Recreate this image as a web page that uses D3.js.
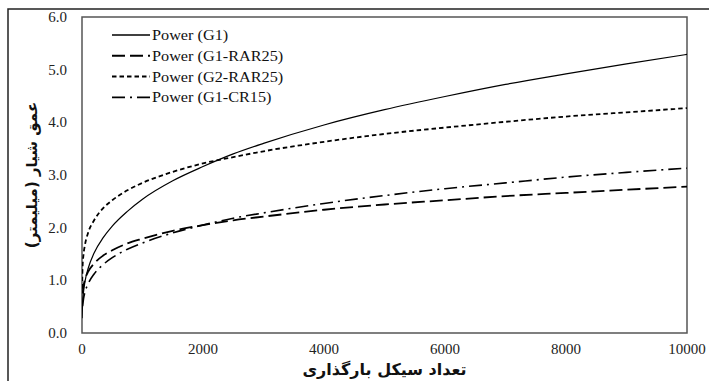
<!DOCTYPE html>
<html>
<head>
<meta charset="utf-8">
<script src="https://cdn.jsdelivr.net/npm/d3@7/dist/d3.min.js"></script>
<style>
  body { margin: 0; background: #fff; }
  .tick-label { font-family: "Liberation Serif", "Times New Roman", serif; font-size: 15px; fill: #222; }
  .legend-label { font-family: "Liberation Serif", "Times New Roman", serif; font-size: 14px; fill: #111; }
  .axis-title { font-family: "DejaVu Sans", sans-serif; font-size: 15px; font-weight: bold; fill: #111; }
</style>
</head>
<body>
<div id="chart"></div>
<script>
'use strict';

var cycles = [1, 10, 25, 50, 100, 200, 350, 500, 750, 1000, 1500, 2000, 2500, 3000, 4000, 5000, 6000, 7000, 8000, 9000, 10000];

// rut depth (mm) read for each curve
var g1      = [0.28, 0.58, 0.78, 0.98, 1.22, 1.52, 1.81, 2.03, 2.31, 2.54, 2.89, 3.16, 3.40, 3.60, 3.95, 4.24, 4.49, 4.72, 4.92, 5.11, 5.29];
var g1Rar25 = [null, 0.75, 0.89, 1.02, 1.16, 1.32, 1.47, 1.57, 1.70, 1.79, 1.94, 2.05, 2.14, 2.21, 2.34, 2.44, 2.52, 2.60, 2.66, 2.72, 2.78];
var g2Rar25 = [0.84, 1.27, 1.49, 1.68, 1.90, 2.14, 2.37, 2.52, 2.71, 2.85, 3.06, 3.22, 3.34, 3.45, 3.63, 3.78, 3.90, 4.01, 4.11, 4.19, 4.27];
var g1Cr15  = [null, 0.51, 0.65, 0.78, 0.93, 1.12, 1.30, 1.43, 1.59, 1.71, 1.90, 2.05, 2.18, 2.28, 2.46, 2.61, 2.74, 2.85, 2.96, 3.05, 3.13];

var seriesNames = ['Power (G1)', 'Power (G1-RAR25)', 'Power (G2-RAR25)', 'Power (G1-CR15)'];
var xTicks = [0, 2000, 4000, 6000, 8000, 10000];
var yTicks = [0, 1, 2, 3, 4, 5, 6];
var xTitle = 'تعداد سیکل بارگذاری';
var yTitle = 'عمق شیار (میلیمتر)';

var series = [
  { name: seriesNames[0], values: g1,      dash: null,         width: 1.2 },
  { name: seriesNames[1], values: g1Rar25, dash: '13,5',       width: 1.8 },
  { name: seriesNames[2], values: g2Rar25, dash: '4.5,3',      width: 1.8 },
  { name: seriesNames[3], values: g1Cr15,  dash: '13,5,2,5',   width: 1.6 }
];

var W = 709, H = 381;
var margin = {top: 17, right: 22, bottom: 48, left: 82};
var width = W - margin.left - margin.right,
    height = H - margin.top - margin.bottom;

var svg = d3.select('#chart').append('svg')
    .attr('width', W)
    .attr('height', H);

// outer frame, cut by the picture edge on the right and bottom
svg.append('rect')
  .attr('x', 8).attr('y', 9)
  .attr('width', 760).attr('height', 420)
  .attr('fill', 'none')
  .attr('stroke', '#222')
  .attr('stroke-width', 1.5);

var g = svg.append('g')
    .attr('transform', 'translate(' + margin.left + ',' + margin.top + ')');

var x = d3.scaleLinear().domain([0, 10000]).range([0, width]);
var y = d3.scaleLinear().domain([0, 6]).range([height, 0]);

// plot frame
g.append('rect')
  .attr('width', width).attr('height', height)
  .attr('fill', 'none')
  .attr('stroke', '#555')
  .attr('stroke-width', 1.5);

g.selectAll('.xlab')
  .data(xTicks)
  .enter().append('text')
  .attr('class', 'tick-label')
  .attr('x', function(d) { return x(d); })
  .attr('y', height + 21)
  .attr('text-anchor', 'middle')
  .text(function(d) { return d; });

g.selectAll('.ylab')
  .data(yTicks)
  .enter().append('text')
  .attr('class', 'tick-label')
  .attr('x', -15)
  .attr('y', function(d) { return y(d) + 5; })
  .attr('text-anchor', 'end')
  .text(function(d) { return d.toFixed(1); });

var line = d3.line()
  .defined(function(d) { return d[1] != null; })
  .x(function(d) { return x(d[0]); })
  .y(function(d) { return y(d[1]); })
  .curve(d3.curveMonotoneX);

g.append('defs').append('clipPath').attr('id', 'clip')
  .append('rect').attr('width', width).attr('height', height);

g.append('g').attr('clip-path', 'url(#clip)')
  .selectAll('path')
  .data(series)
  .enter().append('path')
  .attr('fill', 'none')
  .attr('stroke', '#000')
  .attr('stroke-width', function(d) { return d.width; })
  .attr('stroke-dasharray', function(d) { return d.dash; })
  .attr('d', function(d) {
    return line(cycles.map(function(c, i) { return [c, d.values[i]]; }));
  });

// legend
var legend = g.append('g').attr('transform', 'translate(30,' + 18 + ')');
var rows = legend.selectAll('g')
  .data(series)
  .enter().append('g')
  .attr('transform', function(d, i) { return 'translate(0,' + (i * 20.8) + ')'; });

rows.append('line')
  .attr('x1', 0).attr('x2', 38)
  .attr('stroke', '#000')
  .attr('stroke-width', function(d) { return d.width + 0.2; })
  .attr('stroke-dasharray', function(d) { return d.dash; });

// the source text is a little wider than the font, stretch it
rows.append('text')
  .attr('class', 'legend-label')
  .attr('transform', 'translate(40,5) scale(1.16,1)')
  .text(function(d) { return d.name; });

// axis titles
svg.append('text')
  .attr('class', 'axis-title')
  .attr('x', margin.left + width / 2)
  .attr('y', H - 6)
  .attr('text-anchor', 'middle')
  .attr('direction', 'rtl')
  .style('font-size', '16px')
  .text(xTitle);

svg.append('text')
  .attr('class', 'axis-title')
  .attr('transform', 'translate(37,' + (margin.top + height / 2) + ') rotate(-90)')
  .attr('text-anchor', 'middle')
  .attr('direction', 'rtl')
  .text(yTitle);
</script>
</body>
</html>
